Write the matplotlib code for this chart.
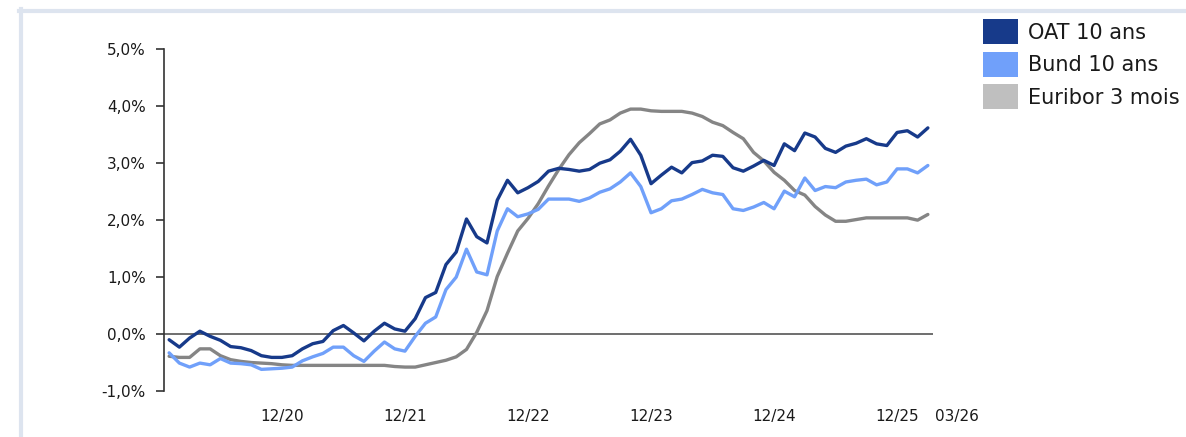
import numpy as np
import pandas as pd
import matplotlib
matplotlib.use('Agg')
import matplotlib.pyplot as plt
from matplotlib.patches import Patch
from matplotlib.lines import Line2D
from matplotlib.transforms import ScaledTranslation

# monthly averages, January 2020 to March 2026 (in %)
months = pd.period_range('2020-01', '2026-03', freq='M')

oat_10y = [
    -0.10, -0.23, -0.07, 0.05, -0.04, -0.11, -0.22, -0.24, -0.29, -0.38, -0.41, -0.41,
    -0.38, -0.26, -0.17, -0.13, 0.06, 0.15, 0.02, -0.12, 0.05, 0.19, 0.09, 0.05,
    0.27, 0.64, 0.73, 1.22, 1.44, 2.02, 1.71, 1.60, 2.35, 2.70, 2.48, 2.57,
    2.68, 2.86, 2.91, 2.89, 2.86, 2.89, 3.00, 3.06, 3.21, 3.42, 3.14, 2.64,
    2.79, 2.93, 2.83, 3.01, 3.04, 3.14, 3.12, 2.92, 2.86, 2.95, 3.05, 2.96,
    3.34, 3.22, 3.53, 3.46, 3.26, 3.19, 3.30, 3.35, 3.43, 3.34, 3.31, 3.54,
    3.57, 3.46, 3.62,
]

bund_10y = [
    -0.33, -0.51, -0.58, -0.51, -0.54, -0.43, -0.51, -0.52, -0.54, -0.62, -0.61, -0.60,
    -0.58, -0.47, -0.40, -0.34, -0.23, -0.23, -0.38, -0.48, -0.30, -0.14, -0.26, -0.30,
    -0.04, 0.19, 0.30, 0.78, 1.00, 1.49, 1.09, 1.04, 1.81, 2.20, 2.06, 2.11,
    2.19, 2.37, 2.37, 2.37, 2.33, 2.39, 2.49, 2.55, 2.67, 2.83, 2.59, 2.13,
    2.20, 2.34, 2.37, 2.45, 2.54, 2.48, 2.45, 2.20, 2.17, 2.23, 2.31, 2.20,
    2.51, 2.41, 2.74, 2.52, 2.59, 2.57, 2.67, 2.70, 2.72, 2.62, 2.67, 2.90,
    2.90, 2.83, 2.96,
]

euribor_3m = [
    -0.39, -0.41, -0.41, -0.26, -0.26, -0.38, -0.45, -0.48, -0.50, -0.51, -0.52, -0.54,
    -0.55, -0.55, -0.55, -0.55, -0.55, -0.55, -0.55, -0.55, -0.55, -0.55, -0.57, -0.58,
    -0.58, -0.54, -0.50, -0.46, -0.40, -0.27, 0.03, 0.41, 1.01, 1.42, 1.81, 2.03,
    2.29, 2.60, 2.89, 3.15, 3.36, 3.52, 3.69, 3.76, 3.88, 3.95, 3.95, 3.92,
    3.91, 3.91, 3.91, 3.88, 3.82, 3.72, 3.66, 3.54, 3.43, 3.19, 3.04, 2.84,
    2.70, 2.52, 2.44, 2.24, 2.09, 1.98, 1.98, 2.01, 2.04, 2.04, 2.04, 2.04,
    2.04, 2.00, 2.10,
]

series_names = ['OAT 10 ans', 'Bund 10 ans', 'Euribor 3 mois']
tick_months = ['2020-12', '2021-12', '2022-12', '2023-12', '2024-12', '2025-12']
y_ticks = [-1, 0, 1, 2, 3, 4, 5]

df = pd.DataFrame({'oat': oat_10y, 'bund': bund_10y, 'euribor': euribor_3m}, index=months)

navy = '#173a8a'
light_blue = '#70a0fa'
grey_line = '#858585'
grey_patch = '#bfbfbf'
txt = '#1a1a1a'

fig = plt.figure(figsize=(11.86, 4.37), dpi=100)
ax = fig.add_axes([164 / 1186, 1 - 391 / 437, (933 - 164) / 1186, (391 - 49.3) / 437])

x = np.arange(len(df))
kw = dict(lw=2.4, solid_joinstyle='round', solid_capstyle='round')
ax.plot(x, df['euribor'], color=grey_line, **kw)
ax.plot(x, df['bund'], color=light_blue, **kw)
ax.plot(x, df['oat'], color=navy, **kw)
ax.axhline(0, color='#555555', lw=1.2, zorder=1)

ax.set_xlim(-0.5, len(df) - 0.5)
ax.set_ylim(-1, 5)
ax.set_yticks(y_ticks)
ax.set_yticklabels([f'{v:.1f}%'.replace('.', ',') for v in y_ticks])

# year-end ticks plus the last month
month_keys = list(months.strftime('%Y-%m'))
pos = [month_keys.index(m) for m in tick_months] + [len(df) - 1]
labels = [pd.Period(m).strftime('%m/%y') for m in tick_months] + [months[-1].strftime('%m/%y')]
ax.set_xticks(pos)
ax.set_xticklabels(labels)

ax.tick_params(axis='x', length=0, pad=13, labelsize=11, labelcolor=txt)
ax.tick_params(axis='y', length=6, width=1.2, color='#333333', pad=7, labelsize=11, labelcolor=txt)

# last label sits to the right of its month so it clears 12/25
last = ax.get_xticklabels()[-1]
last.set_horizontalalignment('left')
last.set_transform(last.get_transform() + ScaledTranslation(7 / 100, 0, fig.dpi_scale_trans))

for s in ['top', 'right', 'bottom']:
    ax.spines[s].set_visible(False)
ax.spines['left'].set_color('#333333')
ax.spines['left'].set_linewidth(1.2)

handles = [Patch(facecolor=navy), Patch(facecolor=light_blue), Patch(facecolor=grey_patch)]
fig.legend(handles, series_names, loc='upper left', bbox_to_anchor=(979 / 1186, 1 - 15 / 437),
           frameon=False, fontsize=15, handlelength=1.65, handleheight=1.47,
           handletextpad=0.5, labelspacing=0.36, borderaxespad=0, borderpad=0.2,
           labelcolor=txt)

# pale frame along the top and left edges
frame_col = '#dde4ef'
fig.add_artist(Line2D([21 / 1186, 21 / 1186], [0, 1 - 9 / 437], color=frame_col, lw=3,
                      transform=fig.transFigure))
fig.add_artist(Line2D([19 / 1186, 1], [1 - 11 / 437, 1 - 11 / 437], color=frame_col, lw=3,
                      transform=fig.transFigure))

fig.savefig('out.png', dpi=100)
